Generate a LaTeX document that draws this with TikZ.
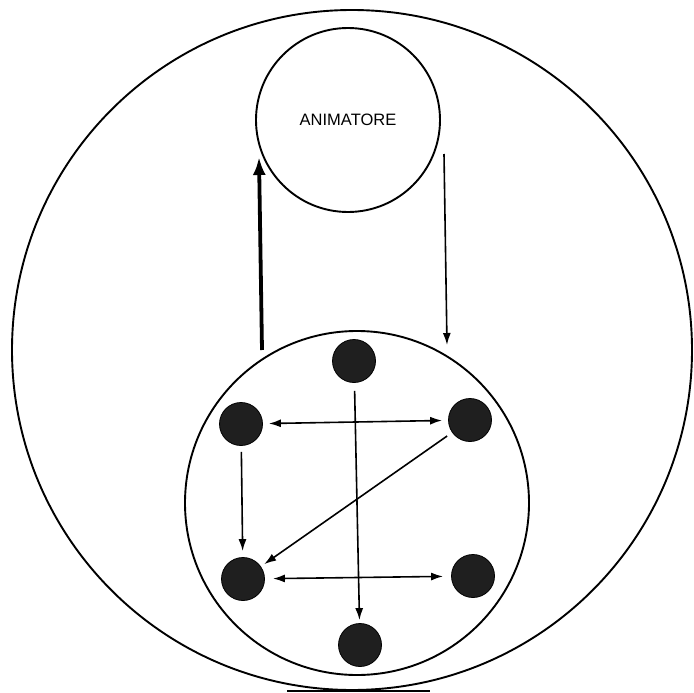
\documentclass[tikz,border=0pt]{standalone}
\usepackage{fontspec}
\setmainfont{Liberation Sans}
\usetikzlibrary{arrows.meta}
\begin{document}
\begin{tikzpicture}[x=1pt,y=-1pt,
  ring/.style={circle,draw,line width=1.9pt,inner sep=0pt},
  member/.style={circle,fill=black!88,draw=black,line width=0.8pt,minimum size=43pt,inner sep=0pt},
  link/.style={line width=1.6pt,-{Latex[length=12pt,width=8pt]}},
  dlink/.style={line width=1.6pt,{Latex[length=12pt,width=8pt]}-{Latex[length=12pt,width=8pt]}},
  thick link/.style={line width=3.8pt,-{Latex[length=18pt,width=13pt]}}]
\useasboundingbox (0,0) rectangle (694,693);
\fill[white] (0,0) rectangle (694,693);
\node[ring,minimum size=680pt] (outer) at (352,350) {};
\node[ring,minimum size=184pt] (anim) at (348,120) {\fontsize{16.5pt}{19pt}\selectfont ANIMATORE};
\node[ring,minimum size=344pt] (group) at (357,503) {};
\node[member] (top) at (354,361) {};
\node[member] (ul) at (241,424) {};
\node[member] (ur) at (470,420) {};
\node[member] (ll) at (243,579) {};
\node[member] (lr) at (473,576) {};
\node[member] (bot) at (360,645) {};
\coordinate (upstart) at (262,350);
\coordinate (upend) at (259,157);
\coordinate (downstart) at (444,154);
\coordinate (downend) at (447,345);
\draw[thick link] (upstart) -- (upend);
\draw[link] (downstart) -- (downend);
\draw[dlink,shorten <=6pt,shorten >=6pt] (ul) -- (ur);
\draw[dlink,shorten <=8pt,shorten >=8pt] (ll) -- (lr);
\draw[link,shorten <=8pt,shorten >=3pt] (top) -- (bot);
\draw[link,shorten <=6pt,shorten >=6pt] (ul) -- (ll);
\draw[link,shorten <=6pt,shorten >=4pt] (ur) -- (ll);
\coordinate (ba) at (287,691);
\coordinate (bb) at (430,691);
\draw[line width=1.4pt] (ba) -- (bb);
\end{tikzpicture}
\end{document}
